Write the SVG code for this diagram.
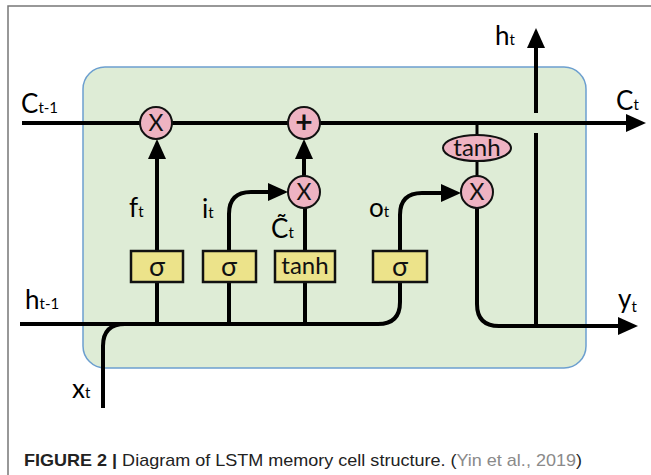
<svg xmlns="http://www.w3.org/2000/svg" width="651" height="475" viewBox="0 0 651 475">
<style>
.ln{fill:none;stroke:#000;stroke-width:4}
.thin{fill:none;stroke:#000;stroke-width:3}
.op{fill:#eeb3c2;stroke:#111;stroke-width:2}
.box{fill:#ece38a;stroke:#111;stroke-width:2.5}
.lbl{font-family:Lato,"Open Sans","Liberation Sans",sans-serif;fill:#000}
.big{font-size:26px}
.sub{font-size:15px}
.in{font-family:Lato,"Open Sans","Liberation Sans",sans-serif;font-size:23px;fill:#111;text-anchor:middle}
.sg{font-size:27px}
.th{font-size:24px}
.pl{font-size:30px;font-weight:bold}
.cap{font-family:"Liberation Sans",Arial,sans-serif;font-size:17px;fill:#222}
</style>
<defs>
<marker id="arr" markerUnits="userSpaceOnUse" markerWidth="20" markerHeight="20" viewBox="0 0 20 20" refX="12" refY="10" orient="auto">
<path d="M0,1 L20,10 L0,19 z" fill="#000"/>
</marker>
</defs>
<rect width="651" height="475" fill="#fff"/>
<path d="M8,475 V6 H651" fill="none" stroke="#777" stroke-width="1.5"/>
<g id="cell">
<rect x="83" y="67" width="503" height="301" rx="22" fill="#deecd6" stroke="#6c9fcf" stroke-width="1.5"/>
</g>
<g id="connectors">
<path class="ln" d="M22,123 H638" marker-end="url(#arr)"/>
<path class="ln" d="M536,113 V36" marker-end="url(#arr)"/>
<path class="ln" d="M536,133 V326"/>
<path class="ln" d="M157,251 V147" marker-end="url(#arr)"/>
<path class="ln" d="M304,176 V147" marker-end="url(#arr)"/>
<path class="ln" d="M229,251 V214 Q229,192 251,192 H280" marker-end="url(#arr)"/>
<path class="ln" d="M400,251 V215 Q400,193 422,193 H453" marker-end="url(#arr)"/>
<path class="ln" d="M20,324 H378 Q400,324 400,302 V282"/>
<path class="ln" d="M103,408 V346 Q103,324 125,324"/>
<path class="ln" d="M157,282 V324 M229,282 V324 M305,282 V324"/>
<path class="ln" d="M305,251 V208"/>
<path class="ln" d="M477,208 V304 Q477,326 499,326 H630" marker-end="url(#arr)"/>
<path class="thin" d="M477,123 V135 M477,161 V176"/>
</g>
<g id="forget-mul"><circle class="op" cx="156" cy="123" r="16"/><text class="in" x="156" y="131">X</text></g>
<g id="add"><circle class="op" cx="304" cy="123" r="16"/><text class="in pl" x="304" y="133">+</text></g>
<g id="input-mul"><circle class="op" cx="304" cy="192" r="16"/><text class="in" x="304" y="200">X</text></g>
<g id="tanh-out"><ellipse class="op" cx="477" cy="148" rx="34" ry="13"/><text class="in th" x="477" y="156">tanh</text></g>
<g id="output-mul"><circle class="op" cx="477" cy="192" r="16"/><text class="in" x="477" y="200">X</text></g>
<g id="sigma-f"><rect class="box" x="131" y="251" width="52" height="31"/><text class="in sg" x="157" y="276">σ</text></g>
<g id="sigma-i"><rect class="box" x="203" y="251" width="53" height="31"/><text class="in sg" x="229" y="276">σ</text></g>
<g id="tanh-c"><rect class="box" x="275" y="251" width="60" height="31"/><text class="in th" x="305" y="274">tanh</text></g>
<g id="sigma-o"><rect class="box" x="373" y="251" width="54" height="31"/><text class="in sg" x="400" y="276">σ</text></g>
<g id="labels">
<text class="lbl big" x="21" y="113">C<tspan class="sub">t-1</tspan></text>
<text class="lbl big" x="616" y="110">C<tspan class="sub">t</tspan></text>
<text class="lbl big" x="495" y="45">h<tspan class="sub">t</tspan></text>
<text class="lbl big" x="129" y="217">f<tspan class="sub">t</tspan></text>
<text class="lbl big" x="202" y="218">i<tspan class="sub">t</tspan></text>
<text class="lbl big" x="271" y="238">C̃<tspan class="sub">t</tspan></text>
<text class="lbl big" x="369" y="217">o<tspan class="sub">t</tspan></text>
<text class="lbl big" x="25" y="309">h<tspan class="sub">t-1</tspan></text>
<text class="lbl big" x="72" y="398">x<tspan class="sub">t</tspan></text>
<text class="lbl big" x="618" y="308">y<tspan class="sub" dy="4">t</tspan></text>
</g>
<text class="cap" x="24" y="466" textLength="558" lengthAdjust="spacingAndGlyphs"><tspan font-weight="bold">FIGURE 2 | </tspan>Diagram of LSTM memory cell structure. (<tspan fill="#8a8a8a">Yin et al., 2019</tspan>)</text>
</svg>
